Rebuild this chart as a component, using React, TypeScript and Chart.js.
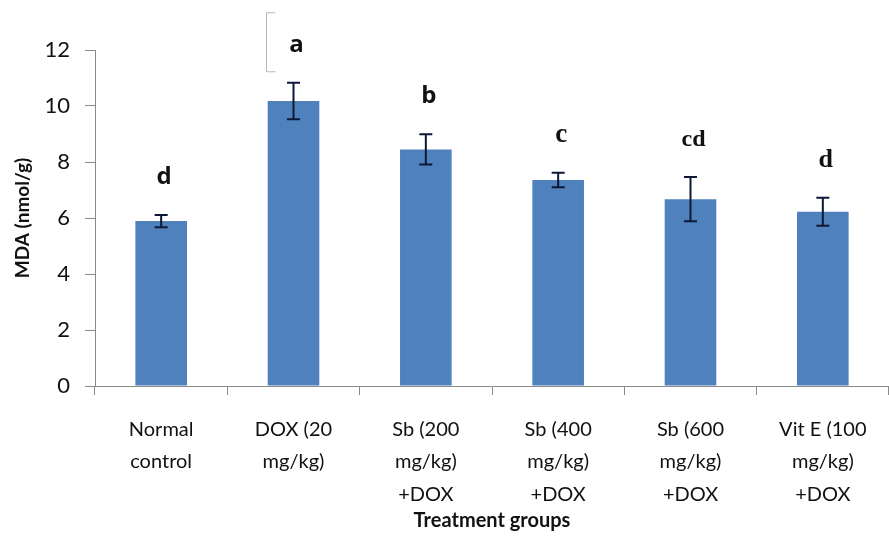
import React, { useEffect, useRef } from "react";
import { Chart, registerables } from "chart.js";

Chart.register(...registerables);

const categories: string[][] = [
  ["Normal", "control"],
  ["DOX (20", "mg/kg)"],
  ["Sb (200", "mg/kg)", "+DOX"],
  ["Sb (400", "mg/kg)", "+DOX"],
  ["Sb (600", "mg/kg)", "+DOX"],
  ["Vit E (100", "mg/kg)", "+DOX"],
];
const mdaValues = [5.89, 10.18, 8.45, 7.36, 6.67, 6.22];
const mdaErrors = [0.22, 0.65, 0.54, 0.26, 0.79, 0.5];
const letters = ["d", "a", "b", "c", "cd", "d"];
const letterSerif = [false, false, false, true, true, true];
const letterSizes = [24, 24, 24, 27, 24, 26];
const yMin = 0;
const yMax = 12;
const yStep = 2;

const annotationPlugin = {
  id: "annotations",
  afterDatasetsDraw(chart: any) {
    const ctx = chart.ctx;
    const meta = chart.getDatasetMeta(0);
    const y = chart.scales.y;
    ctx.save();
    // error bars
    ctx.strokeStyle = "#0c1836";
    ctx.lineWidth = 2;
    meta.data.forEach((bar: any, i: number) => {
      const x = bar.x;
      const top = y.getPixelForValue(mdaValues[i] + mdaErrors[i]);
      const bot = y.getPixelForValue(mdaValues[i] - mdaErrors[i]);
      ctx.beginPath();
      ctx.moveTo(x, top);
      ctx.lineTo(x, bot);
      ctx.moveTo(x - 6.5, top);
      ctx.lineTo(x + 6.5, top);
      ctx.moveTo(x - 6.5, bot);
      ctx.lineTo(x + 6.5, bot);
      ctx.stroke();
    });
    // letters
    ctx.fillStyle = "#111";
    ctx.textAlign = "center";
    ctx.textBaseline = "alphabetic";
    meta.data.forEach((bar: any, i: number) => {
      const top = y.getPixelForValue(mdaValues[i] + mdaErrors[i]);
      const base = top - 31;
      ctx.font = letterSerif[i]
        ? `bold ${letterSizes[i]}px "Liberation Serif"`
        : `bold ${letterSizes[i]}px "Open Sans"`;
      ctx.fillText(letters[i], bar.x + 3, base);
      if (i === 1) {
        // light bracket left of the letter
        const bx = Math.round(bar.x - 28) + 0.5;
        ctx.strokeStyle = "#b8b8b8";
        ctx.lineWidth = 1;
        ctx.beginPath();
        ctx.moveTo(bx + 9, base - 39);
        ctx.lineTo(bx, base - 39);
        ctx.lineTo(bx, base + 20);
        ctx.lineTo(bx + 9, base + 20);
        ctx.stroke();
      }
    });
    ctx.restore();
  },
};

export default function App() {
  const ref = useRef<HTMLCanvasElement | null>(null);
  useEffect(() => {
    if (!ref.current) return;
    const chart = new Chart(ref.current, {
      type: "bar",
      data: {
        labels: categories,
        datasets: [
          {
            data: mdaValues,
            backgroundColor: "#4F81BD",
            borderWidth: 0,
            categoryPercentage: 0.39,
            barPercentage: 1,
          },
        ],
      },
      options: {
        animation: false,
        responsive: false,
        maintainAspectRatio: false,
        layout: { padding: { top: 50, left: 0, right: 0, bottom: 0 } },
        plugins: { legend: { display: false }, tooltip: { enabled: false } },
        scales: {
          x: {
            offset: true,
            grid: {
              offset: true,
              drawOnChartArea: false,
              tickLength: 9,
              color: "#8a8a8a",
            },
            border: { color: "#8a8a8a", width: 1 },
            ticks: {
              color: "#111",
              font: { family: "Lato", size: 20, lineHeight: 1.625 },
              padding: 18,
              maxRotation: 0,
              autoSkip: false,
            },
            title: {
              display: true,
              text: "Treatment groups",
              color: "#111",
              font: { family: "Lato", size: 20, weight: "bold", lineHeight: 1.2 },
              padding: { top: 0, bottom: 5 },
            },
            afterFit(scale: any) {
              scale.height = 152;
            },
          },
          y: {
            min: yMin,
            max: yMax,
            ticks: {
              stepSize: yStep,
              color: "#111",
              font: { family: "Lato", size: 22 },
              padding: 15,
            },
            grid: {
              drawOnChartArea: false,
              tickLength: 10,
              color: "#8a8a8a",
            },
            border: { color: "#8a8a8a", width: 1 },
            title: {
              display: true,
              text: "MDA (nmol/g)",
              color: "#111",
              font: { family: "Lato", size: 19, weight: "bold", lineHeight: 1.2 },
              padding: { top: 11, bottom: 0 },
            },
            afterFit(scale: any) {
              scale.width = 95;
            },
          },
        },
      },
      plugins: [annotationPlugin],
    } as any);
    return () => chart.destroy();
  }, []);
  return (
    <div style={{ position: "fixed", left: 0, top: 0, width: 889, height: 538, background: "#fff" }}>
      <canvas ref={ref} width={889} height={538} style={{ width: 889, height: 538, display: "block" }} />
    </div>
  );
}
